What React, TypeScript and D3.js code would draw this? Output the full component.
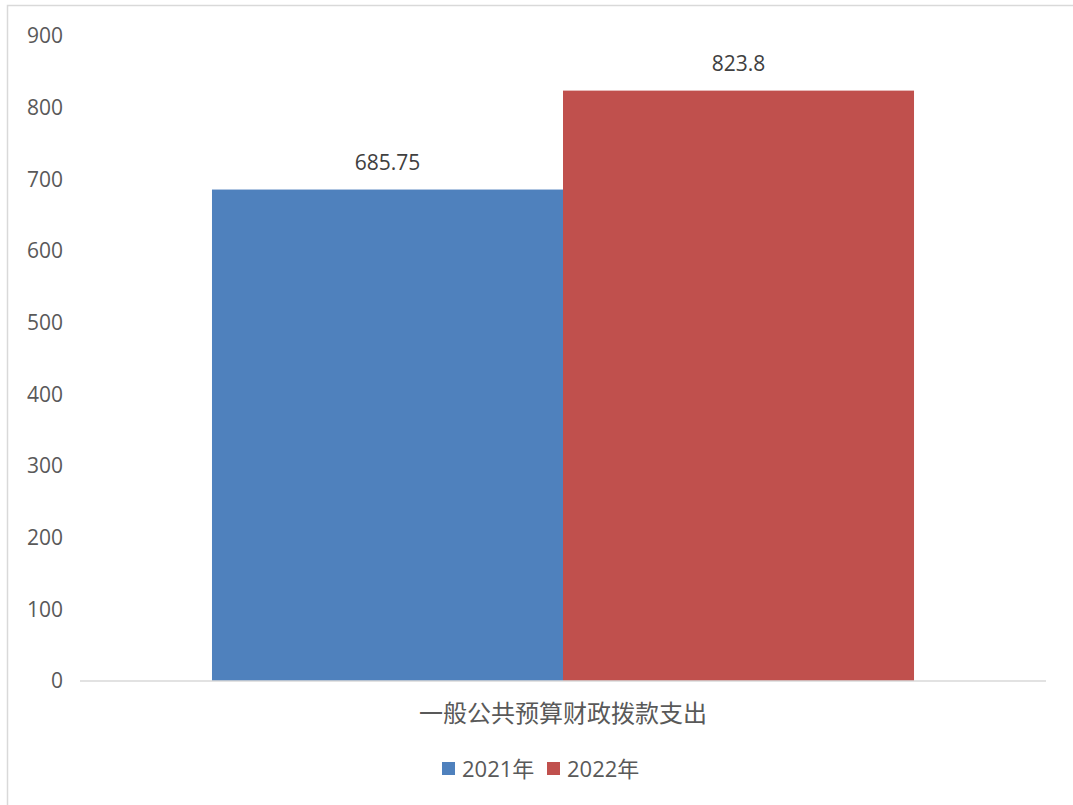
import React from "react";
import * as d3 from "d3";

const categories = ["一般公共预算财政拨款支出"];
const seriesNames = ["2021年", "2022年"];
const seriesValues = [685.75, 823.8];
const seriesLabels = ["685.75", "823.8"];
const seriesColors = ["#4F81BD", "#C0504D"];
const yTicks = [0, 100, 200, 300, 400, 500, 600, 700, 800, 900];

export default function App() {
  const W = 1073, H = 805;
  const left = 80, right = 1046, top = 36, bottom = 681;
  const y = d3.scaleLinear().domain([0, 900]).range([bottom, top]);
  const x0 = d3.scaleBand().domain(categories).range([left, right]).paddingInner(0).paddingOuter(0.188);
  const x1 = d3.scaleBand().domain(seriesNames).range([0, x0.bandwidth()]).padding(0);
  const font = "'Open Sans', 'Noto Sans CJK SC', sans-serif";
  const textColor = "#595959";
  return (
    <svg width={W} height={H} style={{ position: "absolute", left: 0, top: 0, background: "#fff" }}>
      <rect x={7.5} y={5.5} width={W} height={H} fill="none" stroke="#d9d9d9" strokeWidth={1.5} />
      {yTicks.map((t) => (
        <text key={t} x={63} y={y(t)} dy="0.35em" textAnchor="end" fontSize={21} fill={textColor} fontFamily={font}>
          {t}
        </text>
      ))}
      {categories.map((c) => (
        <g key={c} transform={`translate(${x0(c)},0)`}>
          {seriesNames.map((s, i) => (
            <g key={s}>
              <rect x={x1(s)} y={y(seriesValues[i])} width={x1.bandwidth()} height={bottom - y(seriesValues[i])} fill={seriesColors[i]} />
              <text x={(x1(s) as number) + x1.bandwidth() / 2} y={y(seriesValues[i]) - 20} textAnchor="middle" fontSize={21} fill="#404040" fontFamily={font}>
                {seriesLabels[i]}
              </text>
            </g>
          ))}
          <text x={x0.bandwidth() / 2} y={722} textAnchor="middle" fontSize={24} fill={textColor} fontFamily="'Noto Sans CJK SC', sans-serif">
            {c}
          </text>
        </g>
      ))}
      <line x1={left} x2={right} y1={bottom} y2={bottom} stroke="#d9d9d9" strokeWidth={1.5} />
      <g>
        {seriesNames.map((s, i) => {
          const lx = 442 + i * 105;
          return (
            <g key={s}>
              <rect x={lx} y={762} width={13} height={13} fill={seriesColors[i]} />
              <text x={lx + 20} y={777} fontSize={22} fill={textColor} fontFamily={font}>
                {s}
              </text>
            </g>
          );
        })}
      </g>
    </svg>
  );
}
